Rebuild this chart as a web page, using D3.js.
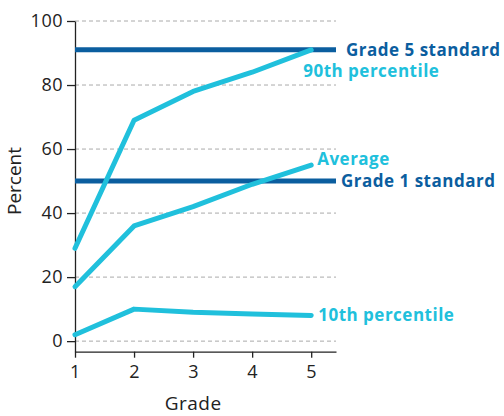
<!DOCTYPE html>
<html>
<head>
<meta charset="utf-8">
<script src="https://cdn.jsdelivr.net/npm/d3@7"></script>
<style>
html,body{margin:0;padding:0;background:#fff;}
svg{display:block;}
</style>
</head>
<body>
<svg id="chart" width="504" height="416"></svg>
<script>
const grades = [1, 2, 3, 4, 5];
const p90 = [29, 69, 78, 84, 91];
const average = [17, 36, 42, 49, 55];
const p10 = [2, 10, 9, 8.5, 8];
const grade5Standard = 91;
const grade1Standard = 50;
const yTicks = [0, 20, 40, 60, 80, 100];
const xTicks = [1, 2, 3, 4, 5];

const svg = d3.select("#chart");
const font = "'Open Sans', sans-serif";
const cyan = "#20c0dc";
const navy = "#0b5e9f";

const x = d3.scaleLinear().domain([1, 5.42]).range([75, 336]);
const y = d3.scaleLinear().domain([-3.3, 100]).range([351.7, 21]);

// grid
svg.append("g").selectAll("line").data(yTicks).join("line")
  .attr("x1", x(1)).attr("x2", x(5.42))
  .attr("y1", d => y(d)).attr("y2", d => y(d))
  .attr("stroke", "#aaa").attr("stroke-width", 1).attr("stroke-dasharray", "4,3");

// axes
const yAxis = svg.append("g").attr("transform", `translate(${x(1)},0)`)
  .call(d3.axisLeft(y).tickValues(yTicks).tickSize(8).tickSizeOuter(0).tickPadding(4));
const xAxis = svg.append("g").attr("transform", `translate(0,${y(-3.3)})`)
  .call(d3.axisBottom(x).tickValues(xTicks).tickSize(6).tickSizeOuter(0).tickFormat(d3.format("d")).tickPadding(8));
[yAxis, xAxis].forEach(a => {
  a.selectAll("path,line").attr("stroke", "#222").attr("stroke-width", 1.3);
  a.selectAll("text").attr("font-family", font).attr("font-size", 18)
    .attr("letter-spacing", 0.5).attr("fill", "#222");
});

// standards
const standards = [
  {v: grade5Standard, label: "Grade 5 standard", dx: 10},
  {v: grade1Standard, label: "Grade 1 standard", dx: 5}
];
standards.forEach(s => {
  svg.append("line").attr("x1", x(1)).attr("x2", x(5.42))
    .attr("y1", y(s.v)).attr("y2", y(s.v))
    .attr("stroke", navy).attr("stroke-width", 5);
  svg.append("text").attr("x", x(5.42) + s.dx).attr("y", y(s.v))
    .attr("dy", "0.35em").attr("font-family", font).attr("font-weight", "bold")
    .attr("font-size", 17).attr("letter-spacing", 0.5).attr("fill", navy).text(s.label);
});

// series
const line = d3.line().x((d, i) => x(grades[i])).y(d => y(d));
const series = [
  {vals: p90, label: "90th percentile", lx: -8, ly: 21},
  {vals: average, label: "Average", lx: 6, ly: -6},
  {vals: p10, label: "10th percentile", lx: 7, ly: 0}
];
series.forEach(s => {
  svg.append("path").attr("d", line(s.vals)).attr("fill", "none")
    .attr("stroke", cyan).attr("stroke-width", 5).attr("stroke-linecap", "round").attr("stroke-linejoin", "round");
  svg.append("text").attr("x", x(5) + s.lx).attr("y", y(s.vals[4]) + s.ly)
    .attr("dy", "0.35em").attr("font-family", font).attr("font-weight", "bold")
    .attr("font-size", 17).attr("letter-spacing", 0.5).attr("fill", cyan).text(s.label);
});

// axis titles
svg.append("text").attr("x", x(3)).attr("y", 410).attr("text-anchor", "middle")
  .attr("font-family", font).attr("font-size", 19).attr("letter-spacing", 0.5).attr("fill", "#222").text("Grade");
svg.append("text").attr("transform", `translate(21,${181}) rotate(-90)`).attr("text-anchor", "middle")
  .attr("font-family", font).attr("font-size", 19).attr("fill", "#222").text("Percent");
</script>
</body>
</html>
